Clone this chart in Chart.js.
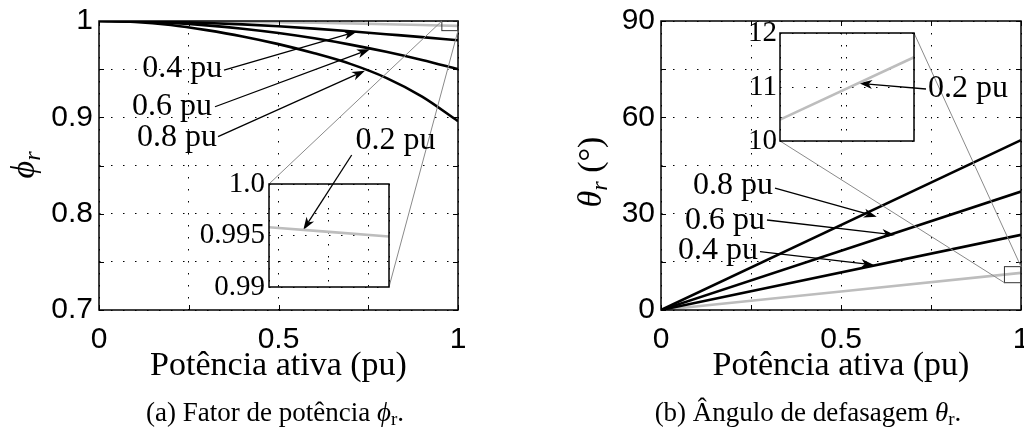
<!DOCTYPE html>
<html>
<head>
<meta charset="utf-8">
<title>Fator de potência e ângulo de defasagem</title>
<script src="https://cdn.jsdelivr.net/npm/chart.js@4.4.1/dist/chart.umd.min.js"></script>
<style>
  html, body { margin: 0; padding: 0; background: #fff; }
  #fig { position: relative; width: 1024px; height: 443px; overflow: hidden; }
  #fig canvas { position: absolute; }
</style>
</head>
<body>
<div id="fig">
  <canvas id="phiChart"></canvas>
  <canvas id="phiZoom"></canvas>
  <canvas id="thetaChart"></canvas>
  <canvas id="thetaZoom"></canvas>
</div>
<script>
// active power (pu) and the curves for each reactive level
const power = [0, 0.1, 0.2, 0.3, 0.4, 0.5, 0.6, 0.7, 0.8, 0.9, 1];
const phi02 = [1, 1, 0.9998, 0.9995, 0.9992, 0.9987, 0.9982, 0.9975, 0.9967, 0.9958, 0.9949];
const phi04 = [1, 0.9998, 0.9991, 0.998, 0.9965, 0.9945, 0.9921, 0.9893, 0.9863, 0.9833, 0.98];
const phi06 = [1, 0.9995, 0.998, 0.9955, 0.992, 0.9875, 0.982, 0.9755, 0.968, 0.9595, 0.95];
const phi08 = [1, 0.999, 0.9958, 0.9905, 0.984, 0.976, 0.9665, 0.9555, 0.941, 0.9215, 0.896];

const thetaPower = [0, 1];
const theta02 = [0, 11.55];
const theta04 = [0, 23.4];
const theta06 = [0, 36.9];
const theta08 = [0, 52.9];

const seriesNames = ['0.2 pu', '0.4 pu', '0.6 pu', '0.8 pu'];

const powerTicks = ['0', '0.5', '1'];
const phiTicks = ['0.7', '0.8', '0.9', '1'];
const thetaTicks = ['0', '30', '60', '90'];
const phiZoomTicks = ['0.99', '0.995', '1.0'];
const thetaZoomTicks = ['10', '11', '12'];

const SERIF = '"Liberation Serif", "DejaVu Serif", serif';
const SANS = '"Liberation Sans", Arial, sans-serif';
const BLACK = '#000';
const GRAY = '#bdbdbd';
const LINK = '#8a8a8a';
const DOTS = [1.5, 10.5];

const PANEL_W = 512;
const FIG_H = 443;

// canvas boxes, in figure pixels
const boxes = {
  phiChart:   { left: 0,   top: 0,   width: PANEL_W, height: FIG_H },
  thetaChart: { left: 512, top: 0,   width: PANEL_W, height: FIG_H },
  phiZoom:    { left: 160, top: 160, width: 235, height: 150 },
  thetaZoom:  { left: 720, top: 8,   width: 210, height: 150 }
};
Object.keys(boxes).forEach(id => {
  const el = document.getElementById(id), b = boxes[id];
  el.width = b.width; el.height = b.height;
  el.style.left = b.left + 'px'; el.style.top = b.top + 'px';
});

function points(xs, ys) {
  return xs.map((x, i) => ({ x, y: ys[i] }));
}

function curve(xs, ys, color, name) {
  return {
    label: name,
    data: points(xs, ys),
    borderColor: color,
    borderWidth: 2.6,
    pointRadius: 0,
    cubicInterpolationMode: 'monotone',
    fill: false
  };
}

function tickLabel(list) {
  return value => {
    const hit = list.find(s => Math.abs(parseFloat(s) - value) < 1e-7);
    return hit === undefined ? '' : hit;
  };
}

function fixWidth(w) {
  return s => { s.width = w; s.paddingTop = 0; s.paddingBottom = 0; };
}
function fixHeight(h) {
  return s => { s.height = h; s.paddingLeft = 0; s.paddingRight = 0; };
}

// box around the plot area plus inward tick marks
const frameTicks = {
  id: 'frameTicks',
  afterDatasetsDraw(chart, args, opts) {
    const { ctx, chartArea: a } = chart;
    ctx.save();
    ctx.strokeStyle = BLACK;
    ctx.lineWidth = 1.5;
    ctx.strokeRect(a.left, a.top, a.right - a.left, a.bottom - a.top);
    const len = opts.tick || 0;
    if (len > 0) {
      const { x, y } = chart.scales;
      ctx.lineWidth = 1;
      ctx.beginPath();
      x.ticks.forEach(t => {
        const px = Math.round(x.getPixelForValue(t.value)) + 0.5;
        ctx.moveTo(px, a.bottom); ctx.lineTo(px, a.bottom - len);
        ctx.moveTo(px, a.top); ctx.lineTo(px, a.top + len);
      });
      y.ticks.forEach(t => {
        const py = Math.round(y.getPixelForValue(t.value)) + 0.5;
        ctx.moveTo(a.left, py); ctx.lineTo(a.left + len, py);
        ctx.moveTo(a.right, py); ctx.lineTo(a.right - len, py);
      });
      ctx.stroke();
    }
    ctx.restore();
  }
};

function drawArrow(ctx, x0, y0, x1, y1) {
  const ang = Math.atan2(y1 - y0, x1 - x0);
  const c = Math.cos(ang), s = Math.sin(ang);
  const L = 13, W = 4.5;
  ctx.beginPath();
  ctx.moveTo(x0, y0);
  ctx.lineTo(x1 - 0.7 * L * c, y1 - 0.7 * L * s);
  ctx.stroke();
  const bx = x1 - L * c, by = y1 - L * s;
  ctx.beginPath();
  ctx.moveTo(x1, y1);
  ctx.lineTo(bx - s * W, by + c * W);
  ctx.lineTo(x1 - 0.72 * L * c, y1 - 0.72 * L * s);
  ctx.lineTo(bx + s * W, by - c * W);
  ctx.closePath();
  ctx.fill();
}

function runsWidth(ctx, runs) {
  return runs.reduce((w, r) => { ctx.font = r.font; return w + ctx.measureText(r.text).width; }, 0);
}
function drawRuns(ctx, runs, cx, baseline) {
  let x = cx - runsWidth(ctx, runs) / 2;
  ctx.textAlign = 'left';
  ctx.textBaseline = 'alphabetic';
  runs.forEach(r => {
    ctx.font = r.font;
    ctx.fillText(r.text, x, baseline + (r.dy || 0));
    x += ctx.measureText(r.text).width;
  });
}

// labels, arrows, zoom square, connectors and titles for one panel
function panelOverlay(cfg) {
  return {
    id: 'panelOverlay',
    afterDraw(chart) {
      const { ctx, chartArea: a, scales: { x, y } } = chart;
      const px = v => x.getPixelForValue(v), py = v => y.getPixelForValue(v);
      ctx.save();

      // zoom square and the lines to the inset corners
      const sq = cfg.square;
      ctx.strokeStyle = '#333';
      ctx.lineWidth = 1;
      ctx.strokeRect(px(sq.x[0]), py(sq.y[1]), px(sq.x[1]) - px(sq.x[0]), py(sq.y[0]) - py(sq.y[1]));
      const inset = cfg.inset(), ib = boxes[cfg.insetId], mb = boxes[cfg.selfId];
      const ia = inset.chartArea;
      const corner = {
        tl: [ib.left - mb.left + ia.left, ib.top - mb.top + ia.top],
        tr: [ib.left - mb.left + ia.right, ib.top - mb.top + ia.top],
        bl: [ib.left - mb.left + ia.left, ib.top - mb.top + ia.bottom],
        br: [ib.left - mb.left + ia.right, ib.top - mb.top + ia.bottom]
      };
      ctx.strokeStyle = LINK;
      ctx.beginPath();
      cfg.links.forEach(l => {
        ctx.moveTo(px(l.from[0]), py(l.from[1]));
        ctx.lineTo(corner[l.to][0], corner[l.to][1]);
      });
      ctx.stroke();

      // series annotations
      ctx.strokeStyle = BLACK;
      ctx.fillStyle = BLACK;
      ctx.lineWidth = 1.3;
      cfg.notes.forEach(n => {
        drawArrow(ctx, px(n.from[0]), py(n.from[1]), px(n.to[0]), py(n.to[1]));
        ctx.font = '32px ' + SERIF;
        ctx.textAlign = n.align;
        ctx.textBaseline = 'middle';
        ctx.fillText(n.text, px(n.at[0]), py(n.at[1]) + 1);
      });

      // axis titles and caption
      ctx.fillStyle = BLACK;
      drawRuns(ctx, [{ text: 'Potência ativa (pu)', font: '34px ' + SERIF }], (a.left + a.right) / 2, 375);
      ctx.save();
      ctx.translate(cfg.yTitle.x, cfg.yTitle.y);
      ctx.rotate(-Math.PI / 2);
      drawRuns(ctx, cfg.yTitle.runs, 0, 10);
      ctx.restore();
      drawRuns(ctx, cfg.caption.runs, cfg.caption.x, 421);
      ctx.restore();
    }
  };
}

function axes(xMin, xMax, xStep, xTicks, yMin, yMax, yStep, yTicks, yWidth, xHeight, tickFont, tickPad) {
  return {
    x: {
      type: 'linear', min: xMin, max: xMax,
      ticks: {
        display: xTicks !== null, stepSize: xStep, autoSkip: false, maxRotation: 0,
        padding: 12, color: BLACK, font: tickFont,
        callback: tickLabel(xTicks || [])
      },
      grid: { drawTicks: false, color: BLACK, lineWidth: 1 },
      border: { display: false, dash: DOTS },
      afterFit: fixHeight(xHeight)
    },
    y: {
      type: 'linear', min: yMin, max: yMax,
      ticks: {
        stepSize: yStep, autoSkip: false, padding: tickPad,
        color: BLACK, font: tickFont, callback: tickLabel(yTicks)
      },
      grid: { drawTicks: false, color: BLACK, lineWidth: 1 },
      border: { display: false, dash: DOTS },
      afterFit: fixWidth(yWidth)
    }
  };
}

function baseOptions(padding, scales, tick) {
  return {
    responsive: false,
    animation: false,
    events: [],
    layout: { padding },
    plugins: {
      legend: { display: false },
      tooltip: { enabled: false },
      frameTicks: { tick }
    },
    scales
  };
}

const tickSans = { family: SANS, size: 30 };
const tickSerif = { family: SERIF, size: 29 };

// insets
const phiZoom = new Chart(document.getElementById('phiZoom'), {
  type: 'line',
  data: { datasets: [curve(power, phi02, GRAY, seriesNames[0])] },
  options: baseOptions(
    { top: 24, right: 6, bottom: 23, left: 0 },
    axes(0.9, 1, 0.05, null, 0.99, 1, 0.005, phiZoomTicks, 109, 0, tickSerif, 4),
    0
  ),
  plugins: [frameTicks]
});

const thetaZoom = new Chart(document.getElementById('thetaZoom'), {
  type: 'line',
  data: { datasets: [curve(thetaPower, theta02, GRAY, seriesNames[0])] },
  options: baseOptions(
    { top: 25, right: 16, bottom: 17, left: 0 },
    axes(0.9, 1, 0.05, null, 10, 12, 1, thetaZoomTicks, 60, 0, tickSerif, 3),
    0
  ),
  plugins: [frameTicks]
});

// panel (a): power factor
new Chart(document.getElementById('phiChart'), {
  type: 'line',
  data: {
    datasets: [
      curve(power, phi04, BLACK, seriesNames[1]),
      curve(power, phi06, BLACK, seriesNames[2]),
      curve(power, phi08, BLACK, seriesNames[3]),
      curve(power, phi02, GRAY, seriesNames[0])
    ]
  },
  options: baseOptions(
    { top: 21, right: PANEL_W - 458, bottom: 0, left: 0 },
    axes(0, 1, 0.25, powerTicks, 0.7, 1, 0.05, phiTicks, 99, FIG_H - 310, tickSans, 6),
    5
  ),
  plugins: [frameTicks, panelOverlay({
    selfId: 'phiChart',
    insetId: 'phiZoom',
    inset: () => phiZoom,
    square: { x: [0.955, 1], y: [0.99, 1] },
    links: [{ from: [0.955, 1], to: 'tl' }, { from: [1, 0.99], to: 'br' }],
    notes: [
      { text: seriesNames[1], align: 'right', at: [0.343, 0.9512], from: [0.3482, 0.9491], to: [0.7178, 0.9889] },
      { text: seriesNames[2], align: 'right', at: [0.3148, 0.9118], from: [0.3231, 0.911], to: [0.7549, 0.9706] },
      { text: seriesNames[3], align: 'right', at: [0.3287, 0.8796], from: [0.3315, 0.8799], to: [0.7409, 0.9484] },
      { text: seriesNames[0], align: 'center', at: [0.8259, 0.8765], from: [0.7039, 0.8609], to: [0.569, 0.783] }
    ],
    yTitle: { x: 24, y: 165, runs: [
      { text: 'ϕ', font: 'italic 34px ' + SERIF },
      { text: 'r', font: 'italic 24px ' + SERIF, dy: 6 }
    ] },
    caption: { x: 275, runs: [
      { text: '(a) Fator de potência ', font: '27px ' + SERIF },
      { text: 'ϕ', font: 'italic 27px ' + SERIF },
      { text: 'r', font: '19px ' + SERIF, dy: 4 },
      { text: '.', font: '27px ' + SERIF }
    ] }
  })]
});

// panel (b): phase angle
new Chart(document.getElementById('thetaChart'), {
  type: 'line',
  data: {
    datasets: [
      curve(thetaPower, theta04, BLACK, seriesNames[1]),
      curve(thetaPower, theta06, BLACK, seriesNames[2]),
      curve(thetaPower, theta08, BLACK, seriesNames[3]),
      curve(thetaPower, theta02, GRAY, seriesNames[0])
    ]
  },
  options: baseOptions(
    { top: 21, right: PANEL_W - 509, bottom: 0, left: 0 },
    axes(0, 1, 0.25, powerTicks, 0, 90, 15, thetaTicks, 149, FIG_H - 310, tickSans, 6),
    5
  ),
  plugins: [frameTicks, panelOverlay({
    selfId: 'thetaChart',
    insetId: 'thetaZoom',
    inset: () => thetaZoom,
    square: { x: [0.954, 1], y: [8.5, 13.5] },
    links: [{ from: [1, 13.5], to: 'tr' }, { from: [0.954, 8.5], to: 'bl' }],
    notes: [
      { text: seriesNames[3], align: 'right', at: [0.3111, 38.93], from: [0.3167, 37.99], to: [0.5992, 29.05] },
      { text: seriesNames[2], align: 'right', at: [0.2889, 28.03], from: [0.2944, 28.03], to: [0.65, 23.36] },
      { text: seriesNames[1], align: 'right', at: [0.2694, 18.68], from: [0.275, 18.16], to: [0.5917, 14.01] },
      { text: seriesNames[0], align: 'left', at: [0.7417, 69.13], from: [0.7361, 68.82], to: [0.5508, 70.6] }
    ],
    yTitle: { x: 79, y: 172, runs: [
      { text: 'θ', font: 'italic 34px ' + SERIF },
      { text: 'r', font: 'italic 24px ' + SERIF, dy: 6 },
      { text: ' (°)', font: '34px ' + SERIF }
    ] },
    caption: { x: 296, runs: [
      { text: '(b) Ângulo de defasagem ', font: '27px ' + SERIF },
      { text: 'θ', font: 'italic 27px ' + SERIF },
      { text: 'r', font: '19px ' + SERIF, dy: 4 },
      { text: '.', font: '27px ' + SERIF }
    ] }
  })]
});
</script>
</body>
</html>
